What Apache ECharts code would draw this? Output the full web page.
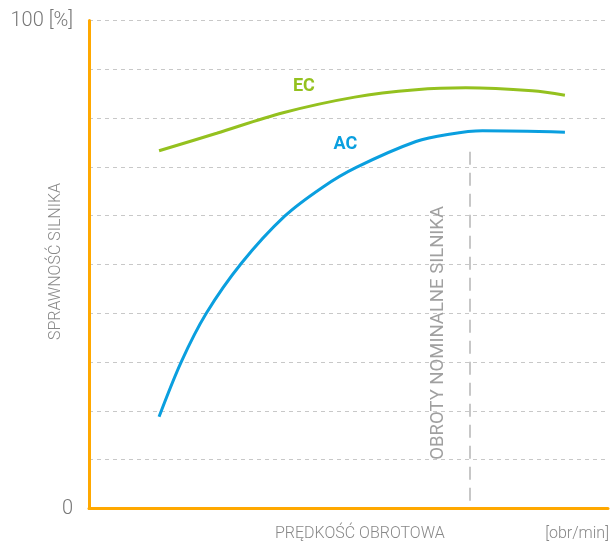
<!DOCTYPE html>
<html><head><meta charset="utf-8">
<script src="https://cdn.jsdelivr.net/npm/echarts@6/dist/echarts.min.js"></script>
<style>html,body{margin:0;padding:0;background:#fff}#c{width:611px;height:544px}</style>
</head><body><div id="c"></div>
<script>
// data
const acX = [13.5, 17.8, 22.6, 29.4, 37.7, 45.1, 51.5, 63.0, 69.4, 75.8, 91.7];
const acY = [18.8, 30.1, 40.0, 50.3, 59.9, 65.9, 69.9, 75.2, 76.7, 77.4, 77.1];
const ecX = [13.5, 24.6, 37.4, 51.2, 63.0, 72.6, 85.4, 91.7];
const ecY = [73.3, 76.9, 81.1, 84.3, 85.8, 86.2, 85.6, 84.7];
const nominalX = 73.3;
const nominalRange = [1.4, 73.1];
const seriesNames = ['EC', 'AC'];
const labelPos = { EC: [41.4, 86.5], AC: [49.4, 74.5] };
const nominalLabel = 'OBROTY NOMINALNE SILNIKA';
const nominalLabelPos = [67.4, 36.0];
const yTicks = { 0: '0', 100: '100 [%]' };
const yName = 'SPRAWNOŚĆ SILNIKA';
const xName = 'PRĘDKOŚĆ OBROTOWA';
const xUnit = '[obr/min]';

const green = '#94C11F', blue = '#0A9FDF', orange = '#FFA800', gray = '#888';
const font = 'Roboto';

const hidden = {symbol: 'circle', symbolSize: 1, itemStyle: {color: 'rgba(0,0,0,0)'}};

const chart = echarts.init(document.getElementById('c'), null, {renderer: 'canvas'});
chart.setOption({
  animation: false,
  grid: {left: 89, right: 3, top: 20.5, bottom: 35.5, outerBoundsMode: 'none', containLabel: false},
  xAxis: {
    type: 'value', min: 0, max: 100,
    axisLine: {show: true, lineStyle: {color: orange, width: 3}},
    axisTick: {show: false}, axisLabel: {show: false}, splitLine: {show: false}
  },
  yAxis: {
    type: 'value', min: 0, max: 100, interval: 10,
    name: yName, nameLocation: 'middle', nameRotate: 90, nameGap: 25, nameMoveOverlap: false,
    nameTextStyle: {color: gray, fontFamily: font, fontSize: 16, fontWeight: 300, padding: [0, 0, 0, 6]},
    axisLine: {show: true, lineStyle: {color: orange, width: 3}},
    axisTick: {show: false},
    axisLabel: {
      margin: 16, color: '#777', fontFamily: font, fontSize: 20, fontWeight: 300,
      formatter: v => (yTicks[v] !== undefined ? yTicks[v] : '')
    },
    splitLine: {show: true, lineStyle: {color: '#c8c8c8', type: [4, 4], width: 1}}
  },
  graphic: [
    {type: 'text', left: 275, top: 526, style: {text: xName, fill: gray, font: '300 16px Roboto'}},
    {type: 'text', right: 2, top: 526, style: {text: xUnit, fill: gray, font: '300 16px Roboto'}}
  ],
  series: [
    {
      name: seriesNames[0], type: 'line', smooth: 0.33, showSymbol: false,
      data: ecX.map((x, i) => [x, ecY[i]]),
      lineStyle: {color: green, width: 3},
      markPoint: Object.assign({}, hidden, {
        silent: true,
        data: [{coord: labelPos.EC, value: 'EC'}],
        label: {show: true, formatter: 'EC', color: green, fontFamily: font, fontWeight: 'bold', fontSize: 18, position: 'inside'}
      })
    },
    {
      name: seriesNames[1], type: 'line', smooth: 0.33, showSymbol: false,
      data: acX.map((x, i) => [x, acY[i]]),
      lineStyle: {color: blue, width: 3},
      markPoint: Object.assign({}, hidden, {
        silent: true,
        data: [
          {coord: labelPos.AC, value: 'AC', label: {show: true, position: 'inside', formatter: 'AC', color: blue, fontFamily: font, fontWeight: 'bold', fontSize: 18}},
          {coord: nominalLabelPos, value: nominalLabel, label: {show: true, position: 'inside', formatter: nominalLabel, color: '#a0a0a0', fontFamily: font, fontWeight: 'normal', fontSize: 18.5, rotate: 90}}
        ]
      }),
      markLine: {
        symbol: 'none', silent: true, label: {show: false},
        lineStyle: {color: '#b5b5b5', type: [13, 8], width: 1.5},
        data: [[{coord: [nominalX, nominalRange[1]]}, {coord: [nominalX, nominalRange[0]]}]]
      }
    }
  ]
});
</script></body></html>
